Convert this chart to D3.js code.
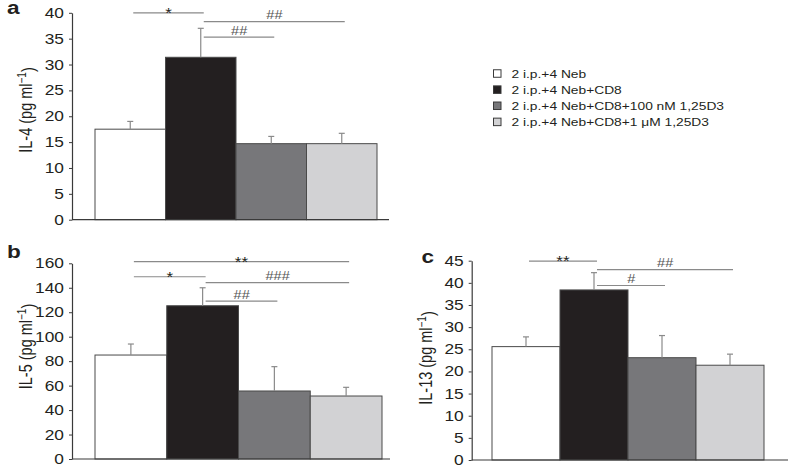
<!DOCTYPE html>
<html>
<head>
<meta charset="utf-8">
<script src="https://cdn.jsdelivr.net/npm/d3@7"></script>
<style>
  html, body { margin: 0; padding: 0; background: #fff; }
  svg { display: block; font-family: "Liberation Sans", Arial, Helvetica, sans-serif; }
</style>
</head>
<body>
<svg id="chart" width="788" height="467"></svg>
<script>
// ---------- data ----------
const categories = [
  "2 i.p.+4 Neb",
  "2 i.p.+4 Neb+CD8",
  "2 i.p.+4 Neb+CD8+100 nM 1,25D3",
  "2 i.p.+4 Neb+CD8+1 \u03bcM 1,25D3"
];
const barColors = ["#ffffff", "#231f20", "#77777a", "#d2d2d4"];

const il4Values = [17.5, 31.4, 14.7, 14.7];
const il4Errors = [1.5, 5.6, 1.4, 2.0];
const il4Ticks = [0, 5, 10, 15, 20, 25, 30, 35, 40];
const il4Brackets = [
  { from: 0, to: 1, label: "*",  level: 40.0 },
  { from: 1, to: 3, label: "##", level: 38.3 },
  { from: 1, to: 2, label: "##", level: 35.3 }
];

const il5Values = [85, 125.3, 55.6, 51.5];
const il5Errors = [9.0, 14.7, 19.9, 7.1];
const il5Ticks = [0, 20, 40, 60, 80, 100, 120, 140, 160];
const il5Brackets = [
  { from: 0, to: 3, label: "**",  level: 161.3 },
  { from: 0, to: 1, label: "*",   level: 149.0 },
  { from: 1, to: 3, label: "###", level: 144.2 },
  { from: 1, to: 2, label: "##",  level: 129.0 }
];

const il13Values = [25.6, 38.4, 23.1, 21.4];
const il13Errors = [2.2, 3.9, 5.0, 2.5];
const il13Ticks = [0, 5, 10, 15, 20, 25, 30, 35, 40, 45];
const il13Brackets = [
  { from: 0, to: 1, label: "**", level: 44.9 },
  { from: 1, to: 3, label: "##", level: 43.0 },
  { from: 1, to: 2, label: "#",  level: 39.4 }
];

// ---------- drawing ----------
const SX = 1.22; // horizontal stretch of glyphs in the reference
const svg = d3.select("#chart");

const panels = [
  { letter: "a", letterX: 7, letterY: 13.5, title: "IL-4", values: il4Values, errors: il4Errors,
    ticks: il4Ticks, brackets: il4Brackets, axisX: 72, axisEnd: 389, yBottom: 219.7, yTop: 12.8,
    barL: 95, barR: 377, titleX: 31.5, titleY: 110 },
  { letter: "b", letterX: 7, letterY: 258.3, title: "IL-5", values: il5Values, errors: il5Errors,
    ticks: il5Ticks, brackets: il5Brackets, axisX: 72, axisEnd: 390, yBottom: 459, yTop: 263.3,
    barL: 95, barR: 382, titleX: 31.5, titleY: 346.5 },
  { letter: "c", letterX: 421.5, letterY: 263.3, title: "IL-13", values: il13Values, errors: il13Errors,
    ticks: il13Ticks, brackets: il13Brackets, axisX: 471.7, axisEnd: 788, yBottom: 460, yTop: 260.7,
    barL: 492, barR: 764, titleX: 431.5, titleY: 358 }
];

panels.forEach(p => {
  const g = svg.append("g");
  const yMax = p.ticks[p.ticks.length - 1];
  const y = d3.scaleLinear().domain([0, yMax]).range([p.yBottom, p.yTop]);
  const x = d3.scaleBand().domain(categories).range([p.barL, p.barR]).padding(0);

  // bars
  g.selectAll("rect.bar").data(p.values).join("rect")
    .attr("class", "bar")
    .attr("x", (d, i) => x(categories[i]))
    .attr("y", d => y(d))
    .attr("width", x.bandwidth())
    .attr("height", d => y(0) - y(d))
    .attr("fill", (d, i) => barColors[i])
    .attr("stroke", "#4a4a4a")
    .attr("stroke-width", 1);

  // error bars (upper only)
  const eb = g.selectAll("g.err").data(p.values).join("g").attr("class", "err")
    .attr("stroke", "#8a8a8a").attr("stroke-width", 1.2);
  eb.append("line")
    .attr("x1", (d, i) => x(categories[i]) + x.bandwidth() / 2)
    .attr("x2", (d, i) => x(categories[i]) + x.bandwidth() / 2)
    .attr("y1", d => y(d))
    .attr("y2", (d, i) => y(d + p.errors[i]));
  eb.append("line")
    .attr("x1", (d, i) => x(categories[i]) + x.bandwidth() / 2 - 3)
    .attr("x2", (d, i) => x(categories[i]) + x.bandwidth() / 2 + 3)
    .attr("y1", (d, i) => y(d + p.errors[i]))
    .attr("y2", (d, i) => y(d + p.errors[i]));

  // x baseline
  g.append("line")
    .attr("x1", p.axisX).attr("x2", p.axisEnd)
    .attr("y1", y(0)).attr("y2", y(0))
    .attr("stroke", "#3a3a3a").attr("stroke-width", 1.2);

  // y axis
  const ax = g.append("g").attr("transform", `translate(${p.axisX},0)`)
    .call(d3.axisLeft(y).tickValues(p.ticks).tickSize(3).tickPadding(3.6).tickSizeOuter(0));
  ax.select(".domain").attr("stroke", "#3a3a3a").attr("stroke-width", 1.2);
  ax.selectAll(".tick line").attr("stroke", "#3a3a3a");
  ax.selectAll(".tick text")
    .attr("font-size", 14.2)
    .attr("font-family", "Liberation Sans, Arial, sans-serif")
    .attr("fill", "#231f20")
    .attr("transform", `scale(${SX},1)`);

  // axis title
  const t = g.append("text")
    .attr("transform", `translate(${p.titleX},${p.titleY}) scale(${SX},1) rotate(-90)`)
    .attr("text-anchor", "middle")
    .attr("font-size", 14.5)
    .attr("fill", "#231f20");
  t.append("tspan").text(p.title + " (pg ml");
  t.append("tspan").attr("dy", "-0.45em").attr("font-size", 10).text("\u22121");
  t.append("tspan").attr("dy", "0.45em").text(")");

  // panel letter
  g.append("text")
    .attr("transform", `translate(${p.letterX},${p.letterY}) scale(${SX},1)`)
    .attr("font-size", 18.5)
    .attr("font-weight", "bold")
    .attr("fill", "#231f20")
    .text(p.letter);

  // significance brackets
  const cx = i => x(categories[i]) + x.bandwidth() / 2 + 3;
  p.brackets.forEach(b => {
    const ly = y(b.level);
    g.append("line")
      .attr("x1", cx(b.from)).attr("x2", cx(b.to))
      .attr("y1", ly).attr("y2", ly)
      .attr("stroke", "#8a8a8a").attr("stroke-width", 1.2);
    const isStar = b.label.indexOf("*") >= 0;
    const mx = (cx(b.from) + cx(b.to)) / 2;
    g.append("text")
      .attr("transform", `translate(${mx},${isStar ? ly + 5 : ly - 2.2}) scale(${SX},1)`)
      .attr("text-anchor", "middle")
      .attr("font-size", isStar ? 14 : 12)
      .attr("fill", isStar ? "#231f20" : "#555")
      .attr("font-style", isStar ? "normal" : "italic")
      .text(b.label);
  });
});

// legend
const legend = svg.append("g");
const legendRow = d3.scaleBand().domain(categories).range([65.5, 130]);
categories.forEach((c, i) => {
  const cy = legendRow(c) + legendRow.bandwidth() / 2;
  legend.append("rect")
    .attr("x", 493.5).attr("y", cy - 3.8)
    .attr("width", 7.5).attr("height", 7.5)
    .attr("fill", barColors[i])
    .attr("stroke", "#3a3a3a").attr("stroke-width", 1);
  legend.append("text")
    .attr("transform", `translate(511.5,${cy + 4}) scale(${SX},1)`)
    .attr("font-size", 11.3)
    .attr("fill", "#231f20")
    .text(c);
});
</script>
</body>
</html>
